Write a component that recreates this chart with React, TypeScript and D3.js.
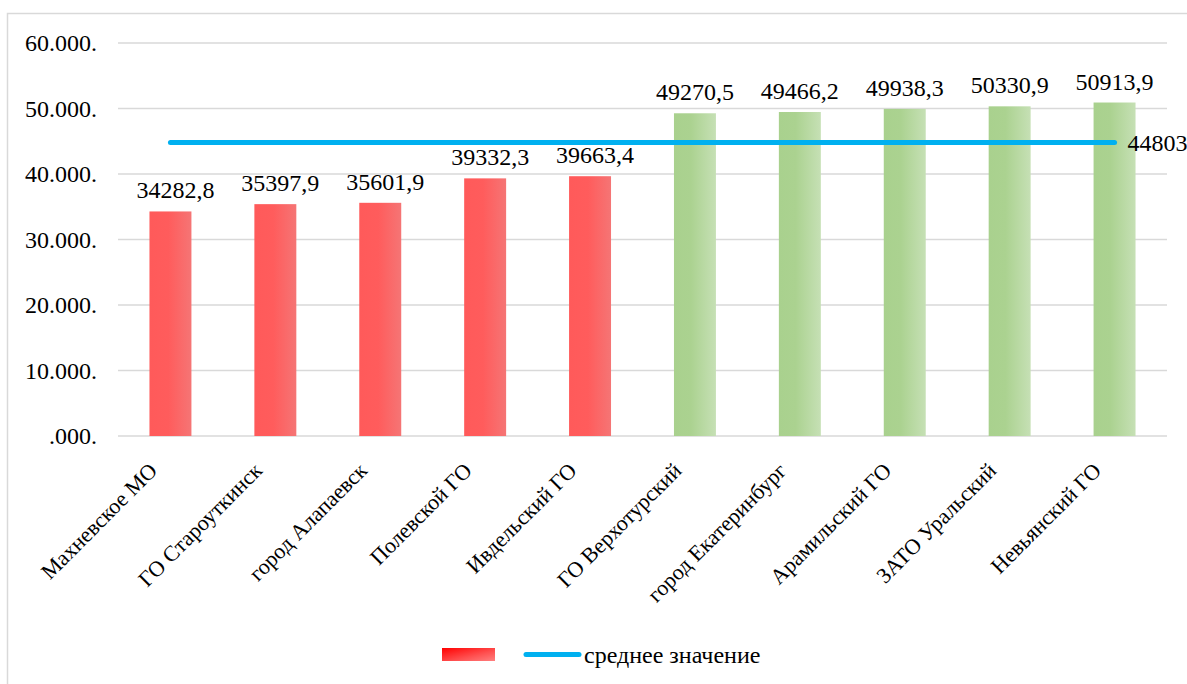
import React from "react";
import * as d3 from "d3";

const categories = [
  "Махневское МО",
  "ГО Староуткинск",
  "город Алапаевск",
  "Полевской ГО",
  "Ивдельский ГО",
  "ГО Верхотурский",
  "город Екатеринбург",
  "Арамильский ГО",
  "ЗАТО Уральский",
  "Невьянский ГО",
];
const values = [34282.8, 35397.9, 35601.9, 39332.3, 39663.4, 49270.5, 49466.2, 49938.3, 50330.9, 50913.9];
const valueLabels = ["34282,8", "35397,9", "35601,9", "39332,3", "39663,4", "49270,5", "49466,2", "49938,3", "50330,9", "50913,9"];
const average = 44803;
const averageLabel = "44803";
const yTicks = [0, 10000, 20000, 30000, 40000, 50000, 60000];
const yTickLabels = [".000.", "10.000.", "20.000.", "30.000.", "40.000.", "50.000.", "60.000."];
const legendLabel = "среднее значение";

const W = 1187;
const H = 684;
const FAMILY = "Liberation Serif";

export default function App() {
  const x = d3.scaleBand<string>().domain(categories).range([118, 1167]).paddingInner(0.6).paddingOuter(0.3);
  const y = d3.scaleLinear().domain([0, 60000]).range([436, 43]);
  const bw = x.bandwidth();
  const cx = (c: string) => (x(c) as number) + bw / 2;
  const lineY = y(average);
  const line = d3.line<number>().x((d) => d).y(() => lineY);
  const x0 = cx(categories[0]);
  const x1 = cx(categories[categories.length - 1]);

  return (
    <svg width={W} height={H} style={{ position: "absolute", left: 0, top: 0, background: "#fff" }}>
      <style>{`.t { font-family: 'Liberation Serif', Tinos, 'Times New Roman', serif; }`}</style>
      <defs>
        <linearGradient id="redG" x1="0" x2="1" y1="0" y2="0">
          <stop offset="0" stopColor="#FF5A5A" />
          <stop offset="0.45" stopColor="#FF5C5C" />
          <stop offset="1" stopColor="#F57575" />
        </linearGradient>
        <linearGradient id="greenG" x1="0" x2="1" y1="0" y2="0">
          <stop offset="0" stopColor="#A9D18E" />
          <stop offset="0.4" stopColor="#ABD290" />
          <stop offset="1" stopColor="#C6E0B5" />
        </linearGradient>
        <linearGradient id="legG" x1="0" x2="1" y1="0" y2="1">
          <stop offset="0" stopColor="#FF0000" />
          <stop offset="0.6" stopColor="#FF5050" />
          <stop offset="1" stopColor="#FF8080" />
        </linearGradient>
      </defs>
      <rect x={7.5} y={13.5} width={W} height={H} fill="none" stroke="#D9D9D9" strokeWidth={1.5} />
      {yTicks.map((t, i) => (
        <g key={t}>
          <line x1={118} x2={1167} y1={y(t)} y2={y(t)} stroke="#D9D9D9" strokeWidth={1.5} />
          <text className="t" x={97} y={y(t) + 8} textAnchor="end" fontFamily={FAMILY} fontSize={24} fill="#000">
            {yTickLabels[i]}
          </text>
        </g>
      ))}
      {categories.map((c, i) => (
        <g key={c}>
          <rect
            x={x(c)}
            y={y(values[i])}
            width={bw}
            height={y(0) - y(values[i])}
            fill={i < 5 ? "url(#redG)" : "url(#greenG)"}
          />
          <text
            className="t"
            x={cx(c)}
            dx={i < 5 ? 5 : 0}
            y={y(values[i]) - 13}
            textAnchor="middle"
            fontFamily={FAMILY}
            fontSize={24}
            fill="#000"
          >
            {valueLabels[i]}
          </text>
          <text
            className="t"
            transform={`translate(${cx(c) - 12},${472}) rotate(-45)`}
            textAnchor="end"
            fontFamily={FAMILY}
            fontSize={22}
            fill="#000"
          >
            {c}
          </text>
        </g>
      ))}
      <path d={line([x0, x1]) || ""} stroke="#00B0F0" strokeWidth={5} strokeLinecap="round" fill="none" />
      <text className="t" x={x1 + 13} y={lineY + 8} fontFamily={FAMILY} fontSize={24} fill="#000">
        {averageLabel}
      </text>
      <rect x={442} y={648} width={53} height={13} fill="url(#legG)" />
      <line x1={526} x2={579} y1={654.5} y2={654.5} stroke="#00B0F0" strokeWidth={5} strokeLinecap="round" />
      <text className="t" x={584} y={663} fontFamily={FAMILY} fontSize={24} fill="#000">
        {legendLabel}
      </text>
    </svg>
  );
}
